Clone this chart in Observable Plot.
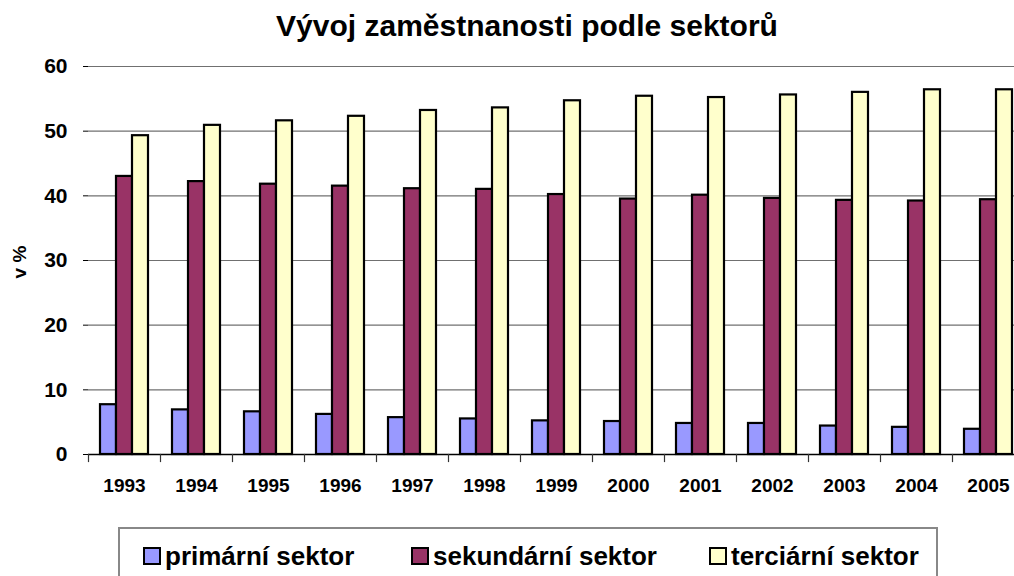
<!DOCTYPE html>
<html><head><meta charset="utf-8">
<script src="https://cdn.jsdelivr.net/npm/d3@7"></script>
<script src="https://cdn.jsdelivr.net/npm/@observablehq/plot@0.6"></script>
<style>
html,body{margin:0;padding:0;overflow:hidden;background:#fff}
body{font-family:"Liberation Sans",Arial,sans-serif}
#wrap{position:relative;width:1014px;height:576px;overflow:hidden}
#chart{position:absolute;left:0;top:0}
#chart svg{max-width:none !important}
#title{position:absolute;left:0;top:9px;width:1054px;text-align:center;font-weight:bold;font-size:30px;line-height:34px;color:#000}
#ylab{position:absolute;left:20px;top:262px;transform:translate(-50%,-50%) rotate(-90deg);font-weight:bold;font-size:19px;white-space:nowrap}
#legend{position:absolute;left:118px;top:527px;width:820px;height:70px;border:2px solid #888;box-sizing:border-box}
.item{position:absolute;top:0;display:flex;align-items:center;height:54px;font-weight:bold;font-size:26px;white-space:nowrap}
.sw{width:14px;height:14px;border:2px solid #000;margin-right:4px}
</style>
</head><body>
<div id="wrap">
  <div id="chart"></div>
  <div id="title">Vývoj zaměstnanosti podle sektorů</div>
  <div id="ylab">v %</div>
  <div id="legend"></div>
</div>
<script>
const years = ["1993","1994","1995","1996","1997","1998","1999","2000","2001","2002","2003","2004","2005"];
const sectors = ["primární sektor","sekundární sektor","terciární sektor"];
const primary   = [7.7, 6.9, 6.6, 6.2, 5.7, 5.5, 5.2, 5.1, 4.8, 4.8, 4.4, 4.2, 3.9];
const secondary = [43.0, 42.2, 41.8, 41.5, 41.1, 41.0, 40.2, 39.5, 40.1, 39.6, 39.3, 39.2, 39.4];
const tertiary  = [49.3, 50.9, 51.6, 52.3, 53.2, 53.6, 54.7, 55.4, 55.2, 55.6, 56.0, 56.4, 56.4];
const yTicks = [0, 10, 20, 30, 40, 50, 60];
const colors = ["#9999FF", "#993366", "#FFFFCC"];

const series = [primary, secondary, tertiary];
const data = [];
years.forEach((yr, i) => sectors.forEach((s, j) => data.push({year: yr, sector: s, value: series[j][i]})));

const chart = Plot.plot({
  width: 1024,
  height: 576,
  marginTop: 66,
  marginBottom: 122,
  marginLeft: 88,
  marginRight: 0,
  style: {fontFamily: "'Liberation Sans', Arial, sans-serif", background: "white", overflow: "visible", maxWidth: "none"},
  fx: {domain: years, padding: 0, axis: null},
  x: {domain: sectors, paddingInner: 0, paddingOuter: 0.75, axis: null},
  y: {domain: [0, 60], axis: null},
  color: {domain: sectors, range: colors},
  marks: [
    Plot.ruleY(yTicks.filter(d => d > 0), {y: d => d, stroke: "#707070", strokeWidth: 1.2}),
    Plot.barY(data, {fx: "year", x: "sector", y: "value", fill: "sector", stroke: "#000", strokeWidth: 2.2, inset: 0}),
    Plot.ruleY([0], {stroke: "#000", strokeWidth: 1.5}),
    Plot.frame({anchor: "left", stroke: "#333", strokeWidth: 1.2, insetTop: 388, insetBottom: -7}),
    Plot.axisY(yTicks, {anchor: "left", tickSize: 5, tickPadding: 16, line: true, stroke: "#000", fontSize: 21, fontWeight: "bold", fill: "#000", label: null}),
    Plot.axisFx({anchor: "bottom", tickSize: 0, tickPadding: 24, fontSize: 19, fontWeight: "bold", fill: "#000", label: null})
  ]
});
document.getElementById("chart").appendChild(chart);

const legend = document.getElementById("legend");
const itemLeft = [23, 291, 589];
sectors.forEach((s, j) => {
  const it = document.createElement("div");
  it.className = "item";
  it.style.left = itemLeft[j] + "px";
  const sw = document.createElement("div");
  sw.className = "sw";
  sw.style.background = colors[j];
  it.appendChild(sw);
  const t = document.createElement("span");
  t.textContent = s;
  it.appendChild(t);
  legend.appendChild(it);
});
</script>
</body></html>
